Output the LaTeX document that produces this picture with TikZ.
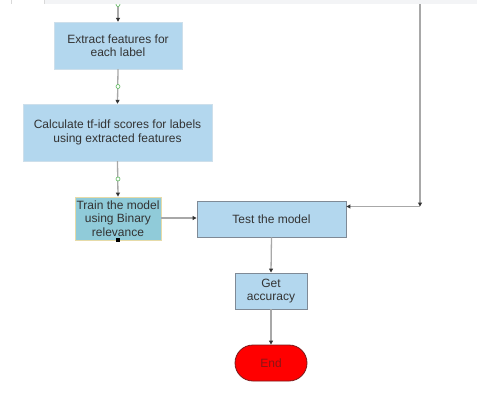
\documentclass[tikz,border=0pt]{standalone}
\usepackage{fontspec}
\setmainfont{Liberation Sans}
\usetikzlibrary{arrows.meta}
\definecolor{boxblue}{HTML}{B3D7EE}
\definecolor{boxteal}{HTML}{90CBD9}
\definecolor{tealedge}{HTML}{E6DBA8}
\definecolor{edgegray}{HTML}{7F8A96}
\definecolor{linegray}{HTML}{A8A8A8}
\definecolor{tipgray}{HTML}{333333}
\definecolor{txtgray}{HTML}{333333}
\definecolor{panelgray}{HTML}{F3F4F6}
\definecolor{dotgreen}{HTML}{5CB85C}
\definecolor{endred}{HTML}{FF0000}
\definecolor{endedge}{HTML}{7A1A1A}
\definecolor{endtext}{HTML}{8B1515}
\begin{document}
\begin{tikzpicture}[x=1pt,y=-1pt,
  every node/.style={inner sep=0pt,font=\fontsize{12}{13.5}\selectfont,text=txtgray,align=center},
  procbox/.style={rectangle,fill=boxblue,minimum width=#1},
  conn/.style={draw=linegray,line width=1.3pt,-{Triangle[length=4pt,width=4pt,color=tipgray]}},
  dot/.style={circle,draw=dotgreen,fill=white,line width=0.6pt,minimum size=4pt,inner sep=0pt}
]
\useasboundingbox (0,0) rectangle (477,418);
\fill[white] (0,0) rectangle (477,418);

% nodes
\node[procbox=128, minimum height=47, draw=boxblue!85!gray!60] (b1) at (118,45.5) {Extract features for\\ each label};
\node[procbox=189, minimum height=57, draw=boxblue!85!gray!60] (b2) at (117.5,132.5) {Calculate tf-idf scores for labels\\ using extracted features};
\node[rectangle, fill=boxteal, draw=tealedge, line width=0.8pt, minimum width=86, minimum height=43] (b3) at (118,218.5) {Train the model\\ using Binary\\ relevance};
\node[procbox=149, minimum height=36, draw=edgegray, line width=0.9pt] (b4) at (271.5,219) {Test the model};
\node[procbox=72, minimum height=36, draw=edgegray, line width=0.9pt] (b5) at (271,291) {Get\\ accuracy};
\node[rectangle, rounded corners=18pt, fill=endred, draw=endedge, line width=0.8pt, minimum width=72, minimum height=36, text=endtext] (end) at (271,363) {End};

% coordinates
\coordinate (topin) at (118,4);
\coordinate (rtop) at (420,4);
\coordinate (rcorner) at (420,206.5);

% connectors
\draw[conn] (topin) -- (b1.north);
\draw[conn] (b1.south) -- (b2.north);
\draw[conn] (b2.south) -- (b3.north);
\draw[conn] (b3.east |- 0,218) -- (b4.west |- 0,218);
\draw[conn] (rtop) -- (rcorner);
\draw[conn] (rcorner) -- (b4.east |- rcorner);
\draw[conn] (b4.south) -- (b5.north);
\draw[conn] (b5.south) -- (end.north);

% green connector handles
\node[dot] (d0) at (118,4.5) {};
\node[dot] (d1) at (118,86.5) {};
\node[dot] (d2) at (118,179) {};
% selection handle
\node[rectangle, fill=black, minimum size=4pt, inner sep=0pt] (h3) at (b3.south) {};

% top panel
\fill[panelgray] (44,0) rectangle (477,3.5);
\draw[gray!30, line width=0.6pt] (44,0) -- (44,3.5);
\draw[gray!30, line width=0.6pt] (11.5,0) -- (11.5,3.5);
\end{tikzpicture}
\end{document}
